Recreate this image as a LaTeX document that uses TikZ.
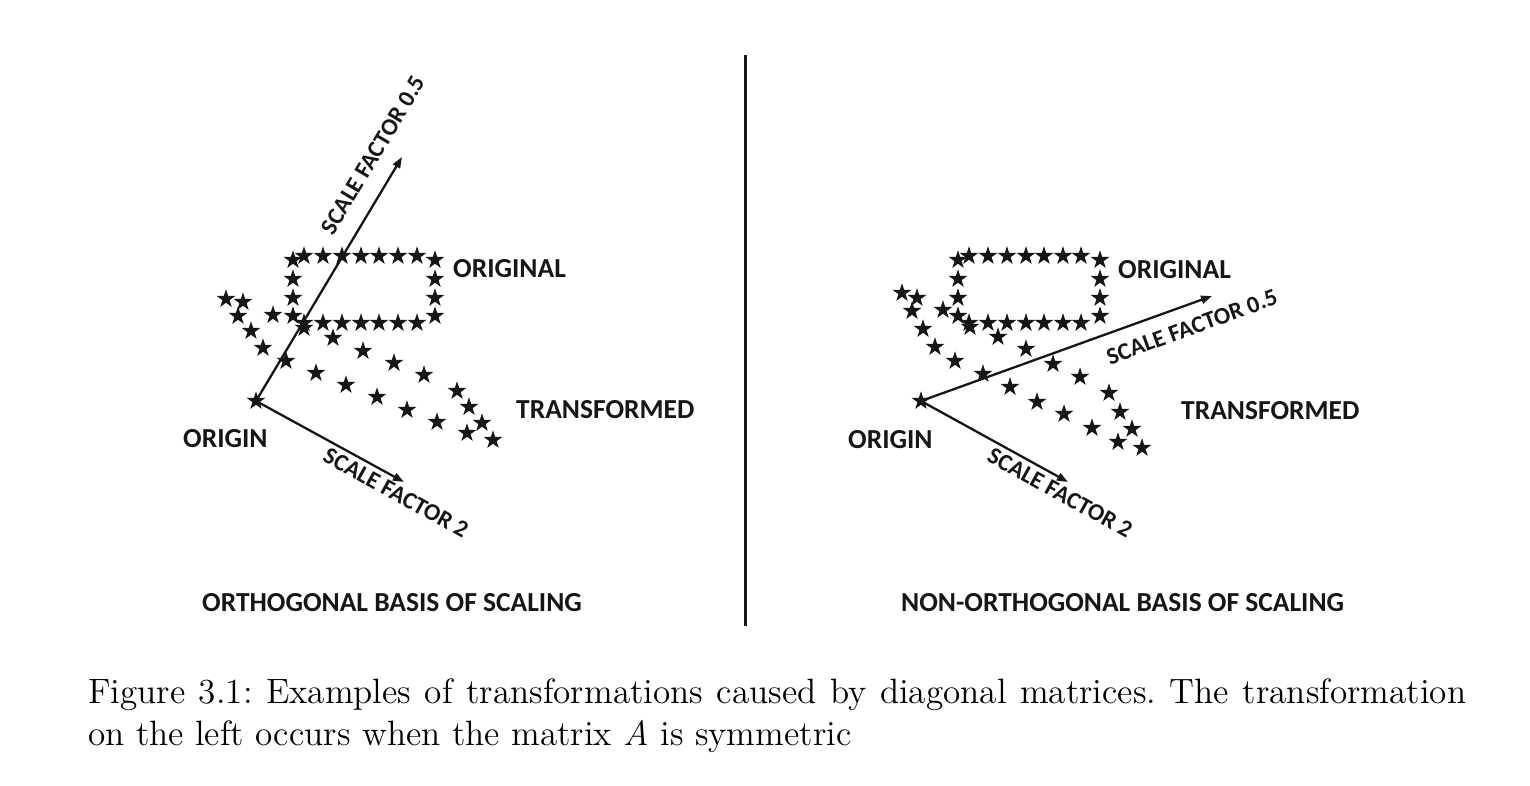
\documentclass[tikz,border=0pt]{standalone}
\usepackage{fontspec}
\usetikzlibrary{shapes.geometric,arrows.meta}
\newfontfamily\labfont{Carlito}
\newfontfamily\capfont{lmroman12-regular}[Extension=.otf, ItalicFont=lmroman12-italic]
\definecolor{ink}{HTML}{161616}
\begin{document}
\begin{tikzpicture}[x=1pt,y=-1pt,
  st/.style={star, star points=5, star point ratio=2.6, minimum size=19.5pt,
             inner sep=0pt, fill=ink, draw=none},
  axis/.style={draw=ink, line width=2.3pt, -{Triangle[length=11pt,width=8pt]}},
  lab/.style={font=\labfont\bfseries\fontsize{27.5}{30}\selectfont, text=ink, inner sep=0pt},
  slab/.style={font=\labfont\bfseries\fontsize{24}{26}\selectfont, text=ink, inner sep=0pt},
  captext/.style={anchor=base west, inner sep=0pt, font=\capfont\fontsize{35.2}{42.5}\selectfont\frenchspacing}]
\useasboundingbox (0,0) rectangle (1530,786);

% divider between the two panels
\coordinate (divtop) at (745.5,55);
\coordinate (divbot) at (745.5,626);
\draw[ink, line width=2.3pt] (divtop) -- (divbot);

% ---------------- left panel: orthogonal basis ----------------
\node[st] (oL) at (256,401) {};
\coordinate (tipLa) at (402,157);
\coordinate (tipLb) at (404,482);
\draw[axis] (oL.center) -- (tipLa);
\draw[axis] (oL.center) -- (tipLb);

% original rectangle
\foreach \y [count=\i] in {260,279,298,316} {
  \node[st] (lol\i) at (293,\y) {};
  \node[st] (lor\i) at (435,\y) {};
}
\foreach \x [count=\i] in {304,323,342,361,379,398,417} {
  \node[st] (lot\i) at (\x,256) {};
  \node[st] (lob\i) at (\x,323) {};
}
% transformed rectangle
\foreach \x/\y [count=\i] in {226/299,243/302,238/316,251/331,263/348,273/315,
  286/361,304/328,333/338,363/351,394/363,424/375,316/373,346/385,377/397,
  407/410,437/422,457/391,469/407,482/423,467/433,493/440} {
  \node[st] (lt\i) at (\x,\y) {};
}

\node[slab, rotate=59] (sfLa) at (373,155) {SCALE FACTOR 0.5};
\node[slab, rotate=-29] (sfLb) at (396,493) {SCALE FACTOR 2};
\node[lab, anchor=base west] (origL) at (453,277) {ORIGINAL};
\node[lab, anchor=base west] (trL) at (516,418) {TRANSFORMED};
\node[lab, anchor=base west] (orgL) at (183,447) {ORIGIN};
\node[lab, anchor=base west] (titL) at (202,611) {ORTHOGONAL BASIS OF SCALING};

% ---------------- right panel: non-orthogonal basis ----------------
\node[st] (oR) at (921,401) {};
\coordinate (tipRa) at (1212,296);
\coordinate (tipRb) at (1068,482);
\draw[axis] (oR.center) -- (tipRa);
\draw[axis] (oR.center) -- (tipRb);

\foreach \y [count=\i] in {260,279,298,316} {
  \node[st] (rol\i) at (958,\y) {};
  \node[st] (ror\i) at (1100,\y) {};
}
\foreach \x [count=\i] in {969,988,1007,1026,1044,1063,1081} {
  \node[st] (rot\i) at (\x,256) {};
  \node[st] (rob\i) at (\x,323) {};
}
\foreach \x/\y [count=\i] in {902/293,917/298,912/311,943/310,923/329,935/347,
  955/361,983/374,970/327,998/337,1026/349,1053/364,1080/377,1010/387,1037/402,
  1064/414,1092/428,1109/393,1120/412,1132/429,1118/442,1142/448} {
  \node[st] (rt\i) at (\x,\y) {};
}

\node[slab, rotate=20] (sfRa) at (1192,327) {SCALE FACTOR 0.5};
\node[slab, rotate=-29] (sfRb) at (1060,493) {SCALE FACTOR 2};
\node[lab, anchor=base west] (origR) at (1118,278) {ORIGINAL};
\node[lab, anchor=base west] (trR) at (1181,419) {TRANSFORMED};
\node[lab, anchor=base west] (orgR) at (848,448) {ORIGIN};
\node[lab, anchor=base west] (titR) at (901,611) {NON-ORTHOGONAL BASIS OF SCALING};

% ---------------- caption ----------------
\node[captext] (cap1) at (88,703)
  {\makebox[1378pt][s]{Figure 3.1: Examples of transformations caused by diagonal matrices. The transformation}};
\node[captext] (cap2) at (88,745)
  {on the left occurs when the matrix \textit{A} is symmetric};
\end{tikzpicture}
\end{document}
